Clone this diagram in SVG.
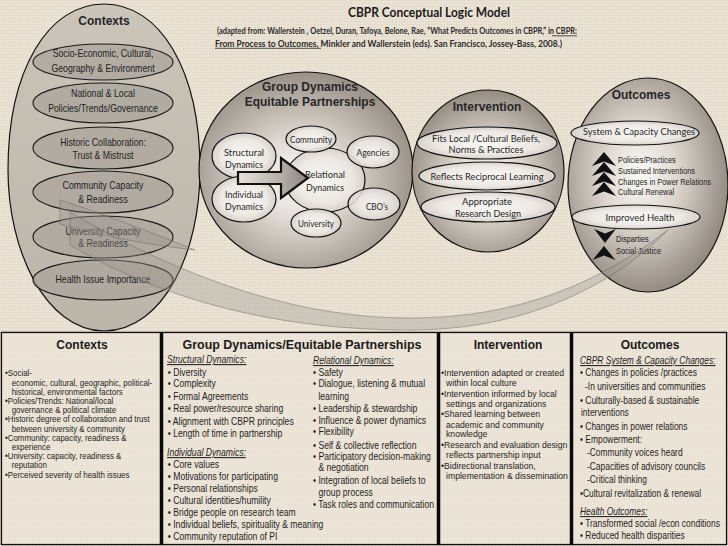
<svg xmlns="http://www.w3.org/2000/svg" width="728" height="546" viewBox="0 0 728 546">
<style>
.ar{font-family:"Liberation Sans",Arial,sans-serif;fill:#1e1e1e}
.cal{font-family:Lato,"Liberation Sans",sans-serif;fill:#262626;font-size:9.5px;text-anchor:middle}
.ttl{font-family:"Liberation Sans",Arial,sans-serif;font-weight:bold;font-size:12px;fill:#262626;text-anchor:middle}
.ctx{font-size:10.7px;text-anchor:middle}
.pill{fill:url(#pillG);stroke:#111;stroke-width:1.2}
.cin{fill:#a9a39a;fill-opacity:0.72;stroke:#1a1a1a;stroke-width:1.1}
.big{stroke:#111;stroke-width:1.2}
.col{fill:#eee8dc;fill-opacity:0.5}
.sep{stroke:#0a0a0a;stroke-width:3.5}
.hd{text-decoration:underline;font-style:italic}
.c1{font-size:8.6px}
.c2{font-size:10.5px}
.c3{font-size:10.3px}
.c4{font-size:9.6px}
.lbl{font-size:9px}
.hdr{font-family:"Liberation Sans",Arial,sans-serif;font-weight:bold;font-size:12px;fill:#1a1a1a;text-anchor:middle}
.sub{font-family:Lato,"Liberation Sans",sans-serif;font-weight:bold;font-size:8.5px;fill:#2a2a2a}
.ul{stroke:#2a2a2a;stroke-width:0.8}
.swoosh{fill:#9c968e;fill-opacity:0.35;stroke:#6a655e;stroke-width:0.6;stroke-opacity:0.8}
</style>
<defs>
<pattern id="tex" width="6" height="6" patternUnits="userSpaceOnUse">
<rect width="6" height="6" fill="#e8e0d1"/>
<path d="M0 0.5H6M0 3.5H6" stroke="#d8cfbf" stroke-width="0.6" opacity="0.7"/>
<path d="M1.5 0V6M4.5 0V6" stroke="#f2ece1" stroke-width="0.6" opacity="0.7"/>
</pattern>
<linearGradient id="ctxG" x1="0" y1="0" x2="0" y2="1">
<stop offset="0" stop-color="#cbc4b9"/><stop offset="1" stop-color="#bcb5aa"/>
</linearGradient>
<radialGradient id="gdG" cx="0.47" cy="0.55" r="0.6">
<stop offset="0" stop-color="#fdfcfa"/><stop offset="0.35" stop-color="#e0dbd3"/><stop offset="1" stop-color="#8f867b"/>
</radialGradient>
<radialGradient id="inG" cx="0.5" cy="0.55" r="0.6">
<stop offset="0" stop-color="#fbfaf7"/><stop offset="0.4" stop-color="#d9d3ca"/><stop offset="1" stop-color="#8a8176"/>
</radialGradient>
<radialGradient id="ouG" cx="0.45" cy="0.45" r="0.6">
<stop offset="0" stop-color="#fdfcfa"/><stop offset="0.4" stop-color="#dcd6cd"/><stop offset="1" stop-color="#8a8177"/>
</radialGradient>
<radialGradient id="pillG" cx="0.5" cy="0.5" r="0.6">
<stop offset="0" stop-color="#fbfaf8"/><stop offset="0.6" stop-color="#ece8e2"/><stop offset="1" stop-color="#c8c2b8"/>
</radialGradient>
<linearGradient id="arG" x1="0" y1="0" x2="1" y2="0">
<stop offset="0" stop-color="#e6e2dc"/><stop offset="0.6" stop-color="#b5afa7"/><stop offset="1" stop-color="#8c867e"/>
</linearGradient>
<path id="chev" d="M0,0 L12,14 L0,9.5 L-12,14 Z" fill="#111"/>
</defs>

<rect width="728" height="546" fill="url(#tex)"/>

<!-- Title -->
<g id="title">
<text x="429" y="17" font-family="Lato,'Liberation Sans',sans-serif" font-weight="bold" font-size="12.5" fill="#1a1a1a" text-anchor="middle" textLength="162" lengthAdjust="spacingAndGlyphs">CBPR Conceptual Logic Model</text>
<text class="sub" x="217" y="34" textLength="360" lengthAdjust="spacingAndGlyphs">(adapted from: Wallerstein , Oetzel, Duran, Tafoya, Belone, Rae, “What Predicts Outcomes in CBPR,” in CBPR:</text>
<line class="ul" x1="552" y1="35.8" x2="577" y2="35.8"/>
<text class="sub" x="215" y="46.5" textLength="347" lengthAdjust="spacingAndGlyphs">From Process to Outcomes, Minkler and Wallerstein (eds). San Francisco, Jossey-Bass, 2008.)</text>
<line class="ul" x1="215" y1="48.3" x2="321" y2="48.3"/>
</g>

<!-- Contexts -->
<g id="contexts">
<path class="big" d="M104,4 C160,4 200,70 200,170 C200,250 165,330 104,331 C45,330 8,250 8,170 C8,70 48,4 104,4 Z" fill="url(#ctxG)"/>
<text class="ttl" x="104" y="25">Contexts</text>
<g id="ctx-socio">
<ellipse class="cin" cx="103" cy="62" rx="70" ry="18"/>
<text class="ar ctx" transform="translate(103,57) scale(0.82,1)">Socio-Economic, Cultural,</text>
<text class="ar ctx" transform="translate(103,72) scale(0.82,1)">Geography &amp; Environment</text>
</g>
<g id="ctx-policies">
<ellipse class="cin" cx="103" cy="103" rx="70" ry="20"/>
<text class="ar ctx" transform="translate(103,97) scale(0.82,1)">National &amp; Local</text>
<text class="ar ctx" transform="translate(103,112) scale(0.82,1)">Policies/Trends/Governance</text>
</g>
<g id="ctx-historic">
<ellipse class="cin" cx="103" cy="148" rx="70" ry="21"/>
<text class="ar ctx" transform="translate(103,146) scale(0.82,1)">Historic Collaboration:</text>
<text class="ar ctx" transform="translate(103,159) scale(0.82,1)">Trust &amp; Mistrust</text>
</g>
<g id="ctx-community">
<ellipse class="cin" cx="103" cy="192" rx="70" ry="21"/>
<text class="ar ctx" transform="translate(103,189) scale(0.82,1)">Community Capacity</text>
<text class="ar ctx" transform="translate(103,203) scale(0.82,1)">&amp; Readiness</text>
</g>
<g id="ctx-university">
<ellipse class="cin" cx="103" cy="237" rx="70" ry="21"/>
<text class="ar ctx" transform="translate(103,235) scale(0.82,1)">University Capacity</text>
<text class="ar ctx" transform="translate(103,247) scale(0.82,1)">&amp; Readiness</text>
</g>
<g id="ctx-health">
<ellipse class="cin" cx="103" cy="280" rx="70" ry="20"/>
<text class="ar ctx" transform="translate(103,283) scale(0.82,1)">Health Issue Importance</text>
</g>
</g>

<!-- Group Dynamics -->
<g id="group-dynamics">
<ellipse class="big" cx="306" cy="170" rx="107" ry="98" fill="url(#gdG)"/>
<text class="ttl" x="310" y="91">Group Dynamics</text>
<text class="ttl" x="310" y="106">Equitable Partnerships</text>
<g id="gd-structural">
<ellipse class="pill" cx="244" cy="156" rx="32" ry="23"/>
<text class="cal" x="244" y="155.5" textLength="40" lengthAdjust="spacingAndGlyphs">Structural</text>
<text class="cal" x="244" y="167.5" textLength="38" lengthAdjust="spacingAndGlyphs">Dynamics</text>
</g>
<g id="gd-individual">
<ellipse class="pill" cx="244" cy="199" rx="32" ry="23"/>
<text class="cal" x="244" y="197.5" textLength="38" lengthAdjust="spacingAndGlyphs">Individual</text>
<text class="cal" x="244" y="209.5" textLength="38" lengthAdjust="spacingAndGlyphs">Dynamics</text>
</g>
<g id="gd-relational">
<ellipse class="pill" cx="325" cy="180" rx="40" ry="32" fill-opacity="0.85"/>
<text class="cal" x="325" y="177.5" textLength="40" lengthAdjust="spacingAndGlyphs">Relational</text>
<text class="cal" x="325" y="190.5" textLength="38" lengthAdjust="spacingAndGlyphs">Dynamics</text>
</g>
<g id="gd-community">
<ellipse class="pill" cx="311" cy="139" rx="25" ry="13" fill-opacity="0.9"/>
<text class="cal" x="311" y="143" textLength="42" lengthAdjust="spacingAndGlyphs">Community</text>
</g>
<g id="gd-agencies">
<ellipse class="pill" cx="373" cy="152" rx="26" ry="16" fill-opacity="0.9"/>
<text class="cal" x="373" y="155.5" textLength="33" lengthAdjust="spacingAndGlyphs">Agencies</text>
</g>
<g id="gd-cbos">
<ellipse class="pill" cx="374" cy="204" rx="26" ry="16" fill-opacity="0.85"/>
<text class="cal" x="377" y="209.5" textLength="22" lengthAdjust="spacingAndGlyphs">CBO’s</text>
</g>
<g id="gd-university">
<ellipse class="pill" cx="316" cy="223" rx="25" ry="14" fill-opacity="0.9"/>
<text class="cal" x="316" y="227" textLength="36" lengthAdjust="spacingAndGlyphs">University</text>
</g>
</g>

<!-- Intervention -->
<g id="intervention">
<ellipse class="big" cx="488" cy="171" rx="76" ry="81" fill="url(#inG)"/>
<text class="ttl" x="487" y="111">Intervention</text>
<g id="int-fits">
<ellipse class="pill" cx="487" cy="143" rx="70" ry="16"/>
<text class="cal" x="486" y="141.5" textLength="108" lengthAdjust="spacingAndGlyphs">Fits Local /Cultural Beliefs,</text>
<text class="cal" x="486" y="152.5" textLength="75" lengthAdjust="spacingAndGlyphs">Norms &amp; Practices</text>
</g>
<g id="int-reflects">
<ellipse class="pill" cx="487" cy="176" rx="68" ry="14"/>
<text class="cal" x="487" y="179.5" textLength="113" lengthAdjust="spacingAndGlyphs">Reflects Reciprocal Learning</text>
</g>
<g id="int-design">
<ellipse class="pill" cx="488" cy="207" rx="67" ry="15"/>
<text class="cal" x="487" y="204.5" textLength="50" lengthAdjust="spacingAndGlyphs">Appropriate</text>
<text class="cal" x="488" y="216.5" textLength="66" lengthAdjust="spacingAndGlyphs">Research Design</text>
</g>
</g>

<!-- Outcomes -->
<g id="outcomes">
<ellipse class="big" cx="648" cy="185" rx="80" ry="107" fill="url(#ouG)"/>
<text class="ttl" x="641" y="99">Outcomes</text>
<g id="out-system">
<ellipse class="pill" cx="635" cy="133" rx="64" ry="12"/>
<text class="cal" x="639" y="134.5" textLength="112" lengthAdjust="spacingAndGlyphs">System &amp; Capacity Changes</text>
</g>
<g id="out-changes">
<use href="#chev" x="604" y="152"/>
<use href="#chev" x="604" y="162"/>
<use href="#chev" x="604" y="172"/>
<use href="#chev" x="604" y="182"/>
<g transform="translate(618,0) scale(0.82,1)">
<text class="ar lbl" x="0" y="163">Policies/Practices</text>
<text class="ar lbl" x="0" y="174">Sustained Interventions</text>
<text class="ar lbl" x="0" y="185">Changes in Power Relations</text>
<text class="ar lbl" x="0" y="195">Cultural Renewal</text>
</g>
</g>
<g id="out-health">
<ellipse class="pill" cx="636" cy="217" rx="64" ry="12"/>
<text class="cal" x="640" y="220.5" textLength="69" lengthAdjust="spacingAndGlyphs">Improved Health</text>
</g>
<g id="out-health-items">
<use href="#chev" transform="translate(605,243) scale(0.9,-1)"/>
<use href="#chev" transform="translate(604,246) scale(0.95,1)"/>
<g transform="translate(616,0) scale(0.82,1)">
<text class="ar lbl" x="0" y="242">Disparties</text>
<text class="ar lbl" x="0" y="254">Social Justice</text>
</g>
</g>
</g>

<!-- Connectors -->
<g id="connectors">
<path class="swoosh" d="M60,200 C110,216 160,236 195,250 C150,245 100,236 60,224 Z"/>
<path class="swoosh" d="M70,212 C160,265 280,318 410,318 C520,318 600,282 668,230 C608,290 520,330 410,330 C260,330 150,292 70,245 Z"/>
<path d="M238,172 L281,172 L281,158 L308,178 L281,198 L281,184 L238,184 Z" fill="url(#arG)" stroke="#111" stroke-width="2.2" stroke-linejoin="miter"/>
</g>

<!-- Bottom table -->
<g id="table">
<rect x="1.5" y="332.5" width="725" height="212" fill="none" stroke="#111" stroke-width="1.5"/>
<g id="col-contexts">
<rect class="col" x="2" y="333" width="158" height="211"/>
<text class="hdr" x="82" y="349">Contexts</text>
<g transform="translate(5,0) scale(0.92,1)" class="ar c1">
<text x="0" y="376.5">•Social-</text>
<text x="7.3" y="385.7">economic, cultural, geographic, political-</text>
<text x="7.3" y="394.9">historical, environmental factors</text>
<text x="0" y="404.1">•Policies/Trends: National/local</text>
<text x="7.3" y="413.3">governance &amp; political climate</text>
<text x="0" y="422.5">•Historic degree of collaboration and trust</text>
<text x="7.3" y="431.7">between university &amp; community</text>
<text x="0" y="440.9">•Community: capacity, readiness &amp;</text>
<text x="7.3" y="450.1">experience</text>
<text x="0" y="459.3">•University: capacity, readiness &amp;</text>
<text x="7.3" y="468.5">reputation</text>
<text x="0" y="477.7">•Perceived severity of health issues</text>
</g>
</g>
<g id="col-group-dynamics">
<rect class="col" x="163" y="333" width="274" height="211"/>
<text class="hdr" x="302" y="349" textLength="239" lengthAdjust="spacingAndGlyphs">Group Dynamics/Equitable Partnerships</text>
<g transform="translate(167,0) scale(0.82,1)" class="ar c2">
<text class="hd" x="0" y="363">Structural Dynamics:</text>
<text x="1" y="376">• Diversity</text>
<text x="1" y="387.5">• Complexity</text>
<text x="1" y="400">• Formal Agreements</text>
<text x="1" y="412">• Real power/resource sharing</text>
<text x="1" y="425">• Alignment with CBPR principles</text>
<text x="1" y="437">• Length of time in partnership</text>
<text class="hd" x="0" y="456">Individual Dynamics:</text>
<text x="1" y="468">• Core values</text>
<text x="1" y="480">• Motivations for participating</text>
<text x="1" y="492">• Personal relationships</text>
<text x="1" y="504">• Cultural identities/humility</text>
<text x="1" y="516">• Bridge people on research team</text>
<text x="1" y="528.5">• Individual beliefs, spirituality &amp; meaning</text>
<text x="1" y="540">• Community reputation of PI</text>
</g>
<g transform="translate(313,0) scale(0.82,1)" class="ar c2">
<text class="hd" x="0" y="364">Relational Dynamics:</text>
<text x="0" y="376">• Safety</text>
<text x="0" y="387.5">• Dialogue, listening &amp; mutual</text>
<text x="6.6" y="400">learning</text>
<text x="0" y="412">• Leadership &amp; stewardship</text>
<text x="0" y="424">• Influence &amp; power dynamics</text>
<text x="0" y="435.5">• Flexibility</text>
<text x="0" y="449">• Self &amp; collective reflection</text>
<text x="0" y="460.5">• Participatory decision-making</text>
<text x="6.6" y="471">&amp; negotiation</text>
<text x="0" y="484">• Integration of local beliefs to</text>
<text x="6.6" y="496">group process</text>
<text x="0" y="508">• Task roles and communication</text>
</g>
</g>
<g id="col-intervention">
<rect class="col" x="440" y="333" width="130" height="211"/>
<text class="hdr" x="508" y="349">Intervention</text>
<g transform="translate(441,0) scale(0.9,1)" class="ar c4">
<text x="0" y="376">•Intervention adapted or created</text>
<text x="5.6" y="386">within local culture</text>
<text x="0" y="396.6">•Intervention informed by local</text>
<text x="5.6" y="406.6">settings and organizations</text>
<text x="0" y="417.3">•Shared learning between</text>
<text x="5.6" y="427.6">academic and community</text>
<text x="5.6" y="437.5">knowledge</text>
<text x="0" y="448.3">•Research and evaluation design</text>
<text x="5.6" y="458.3">reflects partnership input</text>
<text x="0" y="469">•Bidirectional translation,</text>
<text x="5.6" y="479">implementation &amp; dissemination</text>
</g>
</g>
<g id="col-outcomes">
<rect class="col" x="573" y="333" width="153" height="211"/>
<text class="hdr" x="650" y="349">Outcomes</text>
<g transform="translate(580,0) scale(0.82,1)" class="ar c3">
<text class="hd" x="0" y="364">CBPR System &amp; Capacity Changes:</text>
<text x="0" y="376.5">• Changes in policies /practices</text>
<text x="6.1" y="390.5">-In universities and communities</text>
<text x="0" y="404">• Culturally-based &amp; sustainable</text>
<text x="1.2" y="416.5">interventions</text>
<text x="0" y="430.5">• Changes in power relations</text>
<text x="0" y="443">• Empowerment:</text>
<text x="8.5" y="456.5">-Community voices heard</text>
<text x="8.5" y="470">-Capacities of advisory councils</text>
<text x="8.5" y="483">-Critical thinking</text>
<text x="0" y="497">•Cultural revitalization &amp; renewal</text>
<text class="hd" x="0" y="515">Health Outcomes:</text>
<text x="0" y="527">• Transformed social /econ conditions</text>
<text x="0" y="539">• Reduced health disparities</text>
</g>
</g>
<line class="sep" x1="161.5" y1="332" x2="161.5" y2="545"/>
<line class="sep" x1="438.5" y1="332" x2="438.5" y2="545"/>
<line class="sep" x1="571.5" y1="332" x2="571.5" y2="545"/>
</g>
</svg>
